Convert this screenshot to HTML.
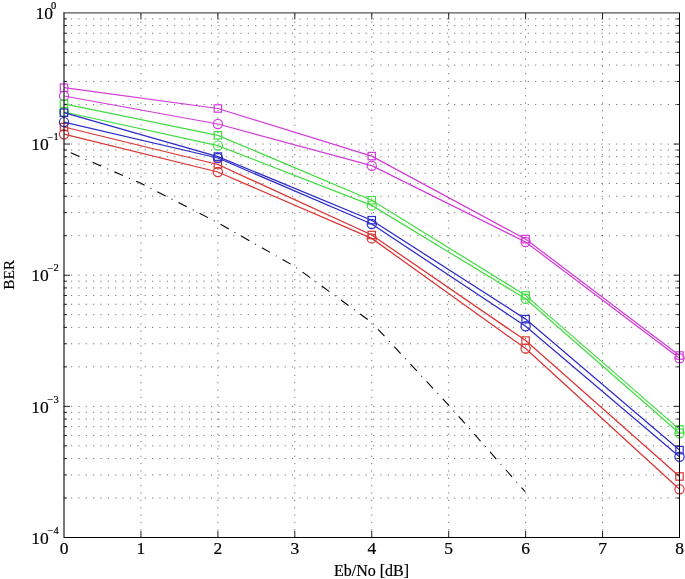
<!DOCTYPE html>
<html><head><meta charset="utf-8"><style>
html,body{margin:0;padding:0;background:#fff;width:685px;height:579px;overflow:hidden}
svg{display:block;will-change:transform}
</style></head><body>
<svg width="685" height="579" viewBox="0 0 685 579">
<rect width="685" height="579" fill="#fff"/>
<g stroke="#000" stroke-opacity="0.55" stroke-width="1.0" stroke-dasharray="1.2 6.167" fill="none">
<line x1="63.60" y1="144.05" x2="679.5" y2="144.05"/>
<line x1="63.60" y1="104.57" x2="679.5" y2="104.57"/>
<line x1="63.60" y1="81.48" x2="679.5" y2="81.48"/>
<line x1="63.60" y1="65.09" x2="679.5" y2="65.09"/>
<line x1="63.60" y1="52.38" x2="679.5" y2="52.38"/>
<line x1="63.60" y1="42.00" x2="679.5" y2="42.00"/>
<line x1="63.60" y1="33.22" x2="679.5" y2="33.22"/>
<line x1="63.60" y1="25.61" x2="679.5" y2="25.61"/>
<line x1="63.60" y1="18.90" x2="679.5" y2="18.90"/>
<line x1="63.60" y1="275.20" x2="679.5" y2="275.20"/>
<line x1="63.60" y1="235.72" x2="679.5" y2="235.72"/>
<line x1="63.60" y1="212.63" x2="679.5" y2="212.63"/>
<line x1="63.60" y1="196.24" x2="679.5" y2="196.24"/>
<line x1="63.60" y1="183.53" x2="679.5" y2="183.53"/>
<line x1="63.60" y1="173.15" x2="679.5" y2="173.15"/>
<line x1="63.60" y1="164.37" x2="679.5" y2="164.37"/>
<line x1="63.60" y1="156.76" x2="679.5" y2="156.76"/>
<line x1="63.60" y1="150.05" x2="679.5" y2="150.05"/>
<line x1="63.60" y1="406.35" x2="679.5" y2="406.35"/>
<line x1="63.60" y1="366.87" x2="679.5" y2="366.87"/>
<line x1="63.60" y1="343.78" x2="679.5" y2="343.78"/>
<line x1="63.60" y1="327.39" x2="679.5" y2="327.39"/>
<line x1="63.60" y1="314.68" x2="679.5" y2="314.68"/>
<line x1="63.60" y1="304.30" x2="679.5" y2="304.30"/>
<line x1="63.60" y1="295.52" x2="679.5" y2="295.52"/>
<line x1="63.60" y1="287.91" x2="679.5" y2="287.91"/>
<line x1="63.60" y1="281.20" x2="679.5" y2="281.20"/>
<line x1="63.60" y1="498.02" x2="679.5" y2="498.02"/>
<line x1="63.60" y1="474.93" x2="679.5" y2="474.93"/>
<line x1="63.60" y1="458.54" x2="679.5" y2="458.54"/>
<line x1="63.60" y1="445.83" x2="679.5" y2="445.83"/>
<line x1="63.60" y1="435.45" x2="679.5" y2="435.45"/>
<line x1="63.60" y1="426.67" x2="679.5" y2="426.67"/>
<line x1="63.60" y1="419.06" x2="679.5" y2="419.06"/>
<line x1="63.60" y1="412.35" x2="679.5" y2="412.35"/>
</g>
<g stroke="#000" stroke-opacity="0.55" stroke-width="1.0" stroke-dasharray="1.2 6.157" fill="none">
<line x1="140.94" y1="537.80" x2="140.94" y2="12.9"/>
<line x1="217.88" y1="537.80" x2="217.88" y2="12.9"/>
<line x1="294.81" y1="537.80" x2="294.81" y2="12.9"/>
<line x1="371.75" y1="537.80" x2="371.75" y2="12.9"/>
<line x1="448.69" y1="537.80" x2="448.69" y2="12.9"/>
<line x1="525.62" y1="537.80" x2="525.62" y2="12.9"/>
<line x1="602.56" y1="537.80" x2="602.56" y2="12.9"/>
</g>
<polyline points="64.00,149.81 140.88,183.32 217.75,222.65 294.62,266.35 371.50,322.26 448.38,404.84 525.25,491.76" fill="none" stroke="#000" stroke-width="1.1" stroke-dasharray="9.4 6.65 0.95 6.73" stroke-dashoffset="16.33"/>
<polyline points="64.00,87.70 217.88,108.50 371.75,156.10 525.62,239.10 679.50,355.50" fill="none" stroke="#d23cd8" stroke-width="1.25"/>
<rect x="60.30" y="84.00" width="7.4" height="7.4" fill="none" stroke="#d23cd8" stroke-width="1.2"/>
<rect x="214.18" y="104.80" width="7.4" height="7.4" fill="none" stroke="#d23cd8" stroke-width="1.2"/>
<rect x="368.05" y="152.40" width="7.4" height="7.4" fill="none" stroke="#d23cd8" stroke-width="1.2"/>
<rect x="521.92" y="235.40" width="7.4" height="7.4" fill="none" stroke="#d23cd8" stroke-width="1.2"/>
<rect x="675.80" y="351.80" width="7.4" height="7.4" fill="none" stroke="#d23cd8" stroke-width="1.2"/>
<polyline points="64.00,96.00 217.88,124.00 371.75,165.70 525.62,242.00 679.50,358.30" fill="none" stroke="#d23cd8" stroke-width="1.25"/>
<circle cx="64.00" cy="96.00" r="4.6" fill="none" stroke="#d23cd8" stroke-width="1.2"/>
<circle cx="217.88" cy="124.00" r="4.6" fill="none" stroke="#d23cd8" stroke-width="1.2"/>
<circle cx="371.75" cy="165.70" r="4.6" fill="none" stroke="#d23cd8" stroke-width="1.2"/>
<circle cx="525.62" cy="242.00" r="4.6" fill="none" stroke="#d23cd8" stroke-width="1.2"/>
<circle cx="679.50" cy="358.30" r="4.6" fill="none" stroke="#d23cd8" stroke-width="1.2"/>
<polyline points="64.00,127.00 217.88,164.50 371.75,235.00 525.62,340.60 679.50,476.50" fill="none" stroke="#da3434" stroke-width="1.25"/>
<rect x="60.30" y="123.30" width="7.4" height="7.4" fill="none" stroke="#da3434" stroke-width="1.2"/>
<rect x="214.18" y="160.80" width="7.4" height="7.4" fill="none" stroke="#da3434" stroke-width="1.2"/>
<rect x="368.05" y="231.30" width="7.4" height="7.4" fill="none" stroke="#da3434" stroke-width="1.2"/>
<rect x="521.92" y="336.90" width="7.4" height="7.4" fill="none" stroke="#da3434" stroke-width="1.2"/>
<rect x="675.80" y="472.80" width="7.4" height="7.4" fill="none" stroke="#da3434" stroke-width="1.2"/>
<polyline points="64.00,134.20 217.88,172.00 371.75,238.40 525.62,348.60 679.50,489.20" fill="none" stroke="#da3434" stroke-width="1.25"/>
<circle cx="64.00" cy="134.20" r="4.6" fill="none" stroke="#da3434" stroke-width="1.2"/>
<circle cx="217.88" cy="172.00" r="4.6" fill="none" stroke="#da3434" stroke-width="1.2"/>
<circle cx="371.75" cy="238.40" r="4.6" fill="none" stroke="#da3434" stroke-width="1.2"/>
<circle cx="525.62" cy="348.60" r="4.6" fill="none" stroke="#da3434" stroke-width="1.2"/>
<circle cx="679.50" cy="489.20" r="4.6" fill="none" stroke="#da3434" stroke-width="1.2"/>
<polyline points="64.00,103.80 217.88,135.30 371.75,200.20 525.62,295.40 679.50,429.40" fill="none" stroke="#44dc44" stroke-width="1.25"/>
<rect x="60.30" y="100.10" width="7.4" height="7.4" fill="none" stroke="#44dc44" stroke-width="1.2"/>
<rect x="214.18" y="131.60" width="7.4" height="7.4" fill="none" stroke="#44dc44" stroke-width="1.2"/>
<rect x="368.05" y="196.50" width="7.4" height="7.4" fill="none" stroke="#44dc44" stroke-width="1.2"/>
<rect x="521.92" y="291.70" width="7.4" height="7.4" fill="none" stroke="#44dc44" stroke-width="1.2"/>
<rect x="675.80" y="425.70" width="7.4" height="7.4" fill="none" stroke="#44dc44" stroke-width="1.2"/>
<polyline points="64.00,112.00 217.88,145.60 371.75,205.40 525.62,298.70 679.50,433.30" fill="none" stroke="#44dc44" stroke-width="1.25"/>
<circle cx="64.00" cy="112.00" r="4.6" fill="none" stroke="#44dc44" stroke-width="1.2"/>
<circle cx="217.88" cy="145.60" r="4.6" fill="none" stroke="#44dc44" stroke-width="1.2"/>
<circle cx="371.75" cy="205.40" r="4.6" fill="none" stroke="#44dc44" stroke-width="1.2"/>
<circle cx="525.62" cy="298.70" r="4.6" fill="none" stroke="#44dc44" stroke-width="1.2"/>
<circle cx="679.50" cy="433.30" r="4.6" fill="none" stroke="#44dc44" stroke-width="1.2"/>
<polyline points="64.00,112.70 217.88,156.60 371.75,220.20 525.62,319.10 679.50,450.10" fill="none" stroke="#2c2cc8" stroke-width="1.25"/>
<rect x="60.30" y="109.00" width="7.4" height="7.4" fill="none" stroke="#2c2cc8" stroke-width="1.2"/>
<rect x="214.18" y="152.90" width="7.4" height="7.4" fill="none" stroke="#2c2cc8" stroke-width="1.2"/>
<rect x="368.05" y="216.50" width="7.4" height="7.4" fill="none" stroke="#2c2cc8" stroke-width="1.2"/>
<rect x="521.92" y="315.40" width="7.4" height="7.4" fill="none" stroke="#2c2cc8" stroke-width="1.2"/>
<rect x="675.80" y="446.40" width="7.4" height="7.4" fill="none" stroke="#2c2cc8" stroke-width="1.2"/>
<polyline points="64.00,122.10 217.88,158.00 371.75,224.00 525.62,326.20 679.50,456.70" fill="none" stroke="#2c2cc8" stroke-width="1.25"/>
<circle cx="64.00" cy="122.10" r="4.6" fill="none" stroke="#2c2cc8" stroke-width="1.2"/>
<circle cx="217.88" cy="158.00" r="4.6" fill="none" stroke="#2c2cc8" stroke-width="1.2"/>
<circle cx="371.75" cy="224.00" r="4.6" fill="none" stroke="#2c2cc8" stroke-width="1.2"/>
<circle cx="525.62" cy="326.20" r="4.6" fill="none" stroke="#2c2cc8" stroke-width="1.2"/>
<circle cx="679.50" cy="456.70" r="4.6" fill="none" stroke="#2c2cc8" stroke-width="1.2"/>
<g stroke="#222" stroke-width="1"><line x1="140.94" y1="537.5" x2="140.94" y2="531.0"/>
<line x1="140.94" y1="12.9" x2="140.94" y2="19.4"/>
<line x1="217.88" y1="537.5" x2="217.88" y2="531.0"/>
<line x1="217.88" y1="12.9" x2="217.88" y2="19.4"/>
<line x1="294.81" y1="537.5" x2="294.81" y2="531.0"/>
<line x1="294.81" y1="12.9" x2="294.81" y2="19.4"/>
<line x1="371.75" y1="537.5" x2="371.75" y2="531.0"/>
<line x1="371.75" y1="12.9" x2="371.75" y2="19.4"/>
<line x1="448.69" y1="537.5" x2="448.69" y2="531.0"/>
<line x1="448.69" y1="12.9" x2="448.69" y2="19.4"/>
<line x1="525.62" y1="537.5" x2="525.62" y2="531.0"/>
<line x1="525.62" y1="12.9" x2="525.62" y2="19.4"/>
<line x1="602.56" y1="537.5" x2="602.56" y2="531.0"/>
<line x1="602.56" y1="12.9" x2="602.56" y2="19.4"/>
<line x1="64.0" y1="144.05" x2="70.0" y2="144.05"/>
<line x1="679.5" y1="144.05" x2="673.5" y2="144.05"/>
<line x1="64.0" y1="104.57" x2="67.0" y2="104.57"/>
<line x1="679.5" y1="104.57" x2="676.5" y2="104.57"/>
<line x1="64.0" y1="81.48" x2="67.0" y2="81.48"/>
<line x1="679.5" y1="81.48" x2="676.5" y2="81.48"/>
<line x1="64.0" y1="65.09" x2="67.0" y2="65.09"/>
<line x1="679.5" y1="65.09" x2="676.5" y2="65.09"/>
<line x1="64.0" y1="52.38" x2="67.0" y2="52.38"/>
<line x1="679.5" y1="52.38" x2="676.5" y2="52.38"/>
<line x1="64.0" y1="42.00" x2="67.0" y2="42.00"/>
<line x1="679.5" y1="42.00" x2="676.5" y2="42.00"/>
<line x1="64.0" y1="33.22" x2="67.0" y2="33.22"/>
<line x1="679.5" y1="33.22" x2="676.5" y2="33.22"/>
<line x1="64.0" y1="25.61" x2="67.0" y2="25.61"/>
<line x1="679.5" y1="25.61" x2="676.5" y2="25.61"/>
<line x1="64.0" y1="18.90" x2="67.0" y2="18.90"/>
<line x1="679.5" y1="18.90" x2="676.5" y2="18.90"/>
<line x1="64.0" y1="275.20" x2="70.0" y2="275.20"/>
<line x1="679.5" y1="275.20" x2="673.5" y2="275.20"/>
<line x1="64.0" y1="235.72" x2="67.0" y2="235.72"/>
<line x1="679.5" y1="235.72" x2="676.5" y2="235.72"/>
<line x1="64.0" y1="212.63" x2="67.0" y2="212.63"/>
<line x1="679.5" y1="212.63" x2="676.5" y2="212.63"/>
<line x1="64.0" y1="196.24" x2="67.0" y2="196.24"/>
<line x1="679.5" y1="196.24" x2="676.5" y2="196.24"/>
<line x1="64.0" y1="183.53" x2="67.0" y2="183.53"/>
<line x1="679.5" y1="183.53" x2="676.5" y2="183.53"/>
<line x1="64.0" y1="173.15" x2="67.0" y2="173.15"/>
<line x1="679.5" y1="173.15" x2="676.5" y2="173.15"/>
<line x1="64.0" y1="164.37" x2="67.0" y2="164.37"/>
<line x1="679.5" y1="164.37" x2="676.5" y2="164.37"/>
<line x1="64.0" y1="156.76" x2="67.0" y2="156.76"/>
<line x1="679.5" y1="156.76" x2="676.5" y2="156.76"/>
<line x1="64.0" y1="150.05" x2="67.0" y2="150.05"/>
<line x1="679.5" y1="150.05" x2="676.5" y2="150.05"/>
<line x1="64.0" y1="406.35" x2="70.0" y2="406.35"/>
<line x1="679.5" y1="406.35" x2="673.5" y2="406.35"/>
<line x1="64.0" y1="366.87" x2="67.0" y2="366.87"/>
<line x1="679.5" y1="366.87" x2="676.5" y2="366.87"/>
<line x1="64.0" y1="343.78" x2="67.0" y2="343.78"/>
<line x1="679.5" y1="343.78" x2="676.5" y2="343.78"/>
<line x1="64.0" y1="327.39" x2="67.0" y2="327.39"/>
<line x1="679.5" y1="327.39" x2="676.5" y2="327.39"/>
<line x1="64.0" y1="314.68" x2="67.0" y2="314.68"/>
<line x1="679.5" y1="314.68" x2="676.5" y2="314.68"/>
<line x1="64.0" y1="304.30" x2="67.0" y2="304.30"/>
<line x1="679.5" y1="304.30" x2="676.5" y2="304.30"/>
<line x1="64.0" y1="295.52" x2="67.0" y2="295.52"/>
<line x1="679.5" y1="295.52" x2="676.5" y2="295.52"/>
<line x1="64.0" y1="287.91" x2="67.0" y2="287.91"/>
<line x1="679.5" y1="287.91" x2="676.5" y2="287.91"/>
<line x1="64.0" y1="281.20" x2="67.0" y2="281.20"/>
<line x1="679.5" y1="281.20" x2="676.5" y2="281.20"/>
<line x1="64.0" y1="537.50" x2="70.0" y2="537.50"/>
<line x1="679.5" y1="537.50" x2="673.5" y2="537.50"/>
<line x1="64.0" y1="498.02" x2="67.0" y2="498.02"/>
<line x1="679.5" y1="498.02" x2="676.5" y2="498.02"/>
<line x1="64.0" y1="474.93" x2="67.0" y2="474.93"/>
<line x1="679.5" y1="474.93" x2="676.5" y2="474.93"/>
<line x1="64.0" y1="458.54" x2="67.0" y2="458.54"/>
<line x1="679.5" y1="458.54" x2="676.5" y2="458.54"/>
<line x1="64.0" y1="445.83" x2="67.0" y2="445.83"/>
<line x1="679.5" y1="445.83" x2="676.5" y2="445.83"/>
<line x1="64.0" y1="435.45" x2="67.0" y2="435.45"/>
<line x1="679.5" y1="435.45" x2="676.5" y2="435.45"/>
<line x1="64.0" y1="426.67" x2="67.0" y2="426.67"/>
<line x1="679.5" y1="426.67" x2="676.5" y2="426.67"/>
<line x1="64.0" y1="419.06" x2="67.0" y2="419.06"/>
<line x1="679.5" y1="419.06" x2="676.5" y2="419.06"/>
<line x1="64.0" y1="412.35" x2="67.0" y2="412.35"/>
<line x1="679.5" y1="412.35" x2="676.5" y2="412.35"/></g>
<g stroke="#000"><line x1="64.0" y1="12.4" x2="64.0" y2="538.0" stroke-width="1.2" stroke="#1a1a1a"/><line x1="63.5" y1="12.9" x2="680.0" y2="12.9" stroke-width="1.0" stroke="#2a2a2a"/><line x1="679.5" y1="12.9" x2="679.5" y2="538.0" stroke-width="1.0"/><line x1="64.0" y1="537.5" x2="680.0" y2="537.5" stroke-width="1.0"/></g>
<g font-family="Liberation Serif" font-size="17.5" fill="#000" stroke="#000" stroke-width="0.2">
<text x="64.00" y="553.6" text-anchor="middle">0</text>
<text x="140.94" y="553.6" text-anchor="middle">1</text>
<text x="217.88" y="553.6" text-anchor="middle">2</text>
<text x="294.81" y="553.6" text-anchor="middle">3</text>
<text x="371.75" y="553.6" text-anchor="middle">4</text>
<text x="448.69" y="553.6" text-anchor="middle">5</text>
<text x="525.62" y="553.6" text-anchor="middle">6</text>
<text x="602.56" y="553.6" text-anchor="middle">7</text>
<text x="679.50" y="553.6" text-anchor="middle">8</text>
<text x="35.4" y="19.10">10</text>
<text x="51.0" y="9.10" font-size="10.5">0</text>
<text x="31.2" y="150.25">10</text>
<text x="47.5" y="140.85" font-size="10.5">−</text><text x="53.42" y="140.25" font-size="10.5">1</text>
<text x="31.2" y="281.40">10</text>
<text x="47.5" y="272.00" font-size="10.5">−</text><text x="53.42" y="271.40" font-size="10.5">2</text>
<text x="31.2" y="412.55">10</text>
<text x="47.5" y="403.15" font-size="10.5">−</text><text x="53.42" y="402.55" font-size="10.5">3</text>
<text x="31.2" y="543.70">10</text>
<text x="47.5" y="534.30" font-size="10.5">−</text><text x="53.42" y="533.70" font-size="10.5">4</text>
<text x="371.5" y="575.5" text-anchor="middle" font-size="16">Eb/No [dB]</text>
<text transform="translate(13.8,274.9) rotate(-90)" text-anchor="middle" font-size="15.4">BER</text>
</g>
</svg>
</body></html>
